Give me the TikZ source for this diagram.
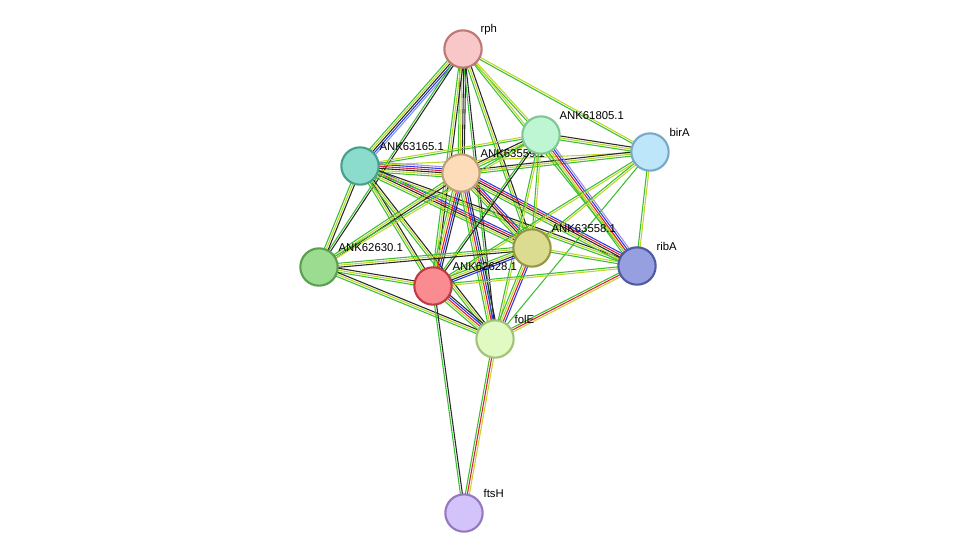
\documentclass[tikz,border=0pt]{standalone}
\usepackage{fontspec}
\setmainfont{Liberation Sans}
\usetikzlibrary{calc}
\definecolor{tm}{RGB}{60,190,50}
\definecolor{cm}{RGB}{190,215,40}
\definecolor{ce}{RGB}{40,40,40}
\definecolor{ex}{RGB}{220,30,50}
\definecolor{db}{RGB}{40,60,230}
\definecolor{hm}{RGB}{160,140,230}
\definecolor{nb}{RGB}{120,150,240}
\newcommand\lnk[3]{%
  \foreach \c [count=\i] in {#3}{\xdef\nn{\i}}%
  \foreach \c [count=\i] in {#3}{%
    \pgfmathsetmacro\off{(\i-(\nn+1)/2)*1.5}%
    \draw[draw=\c,line width=0.8pt] ($(#1)!\off pt!90:(#2)$) -- ($(#2)!\off pt!-90:(#1)$);}}
\tikzset{nd/.style={circle,minimum size=28pt,inner sep=0pt,line width=1.6pt},
 lb/.style={font=\fontsize{8.5pt}{10pt}\selectfont,anchor=south west,inner sep=1pt}}
\begin{document}
\begin{tikzpicture}[x=0.75pt,y=-0.75pt]
\useasboundingbox (0,0) rectangle (975,558);
\coordinate (rph) at (463,49);
\coordinate (a805) at (541,135);
\coordinate (birA) at (650,152);
\coordinate (a165) at (360,166);
\coordinate (a559) at (461,173);
\coordinate (a558) at (532,248);
\coordinate (ribA) at (637,266);
\coordinate (a630) at (319,267);
\coordinate (a628) at (433,286);
\coordinate (folE) at (495,339);
\coordinate (ftsH) at (464,513);
\lnk{rph}{a165}{tm,cm,ce,db,nb}
\lnk{rph}{a559}{tm,cm,ce,ce}
\lnk{rph}{a805}{tm,cm}
\lnk{rph}{birA}{tm,cm}
\lnk{rph}{a558}{tm,cm,ce}
\lnk{rph}{a630}{tm,ce}
\lnk{rph}{a628}{tm,cm,ce}
\lnk{rph}{folE}{tm,ce}
\lnk{rph}{ribA}{tm,cm}
\lnk{a165}{a559}{tm,cm,ce,ex,db,hm}
\lnk{a165}{a805}{tm,cm}
\lnk{a165}{a558}{tm,cm,ce,ex,db}
\lnk{a165}{ribA}{tm,cm,ce}
\lnk{a165}{a630}{tm,cm,ce}
\lnk{a165}{a628}{tm,cm,ce}
\lnk{a165}{folE}{tm,cm,ce}
\lnk{a165}{birA}{cm}
\lnk{a559}{a805}{tm,cm,ce}
\lnk{a559}{birA}{tm,cm,ce}
\lnk{a559}{a558}{tm,cm,ce,ex,db}
\lnk{a559}{ribA}{tm,cm,ce,ex,db}
\lnk{a559}{a630}{tm,cm,ce}
\lnk{a559}{a628}{tm,cm,ex,db,ce}
\lnk{a559}{folE}{tm,cm,ex,db,ce}
\lnk{a805}{birA}{tm,cm,ce}
\lnk{a805}{ribA}{tm,cm,ex,db,hm}
\lnk{a805}{a558}{tm,cm}
\lnk{a805}{a628}{tm,ce}
\lnk{a805}{folE}{tm,cm}
\lnk{a805}{a630}{tm,cm}
\lnk{birA}{ribA}{tm,cm}
\lnk{birA}{a558}{tm,cm}
\lnk{birA}{folE}{tm}
\lnk{birA}{a628}{tm,cm}
\lnk{a558}{ribA}{tm,cm}
\lnk{a558}{a630}{tm,cm,ce}
\lnk{a558}{a628}{tm,cm,ce,db}
\lnk{a558}{folE}{tm,cm,ex,db}
\lnk{ribA}{folE}{tm,ex,cm}
\lnk{ribA}{a628}{tm,cm}
\lnk{a630}{a628}{tm,cm,ce}
\lnk{a630}{folE}{tm,cm,ce}
\lnk{a628}{folE}{tm,cm,ex,db,ce}
\lnk{a628}{ftsH}{tm,ce}
\lnk{folE}{ftsH}{tm,ex,cm}
\node[lb] at (479,36) {rph};
\node[lb] at (558,121) {ANK61805.1};
\node[lb] at (668,138) {birA};
\node[lb] at (378,152) {ANK63165.1};
\node[lb] at (479,159) {ANK63559.1};
\node[lb] at (550,234) {ANK63558.1};
\node[lb] at (655,252) {ribA};
\node[lb] at (337,253) {ANK62630.1};
\node[lb] at (451,272) {ANK62628.1};
\node[lb] at (513,325) {folE};
\node[lb] at (482,499) {ftsH};
\node[nd,draw={rgb,255:red,190;green,120;blue,120},fill={rgb,255:red,248;green,200;blue,200}] (n1) at (rph) {};
\node[nd,draw={rgb,255:red,130;green,200;blue,150},fill={rgb,255:red,190;green,245;blue,210}] (n2) at (a805) {};
\node[nd,draw={rgb,255:red,120;green,170;blue,200},fill={rgb,255:red,190;green,230;blue,250}] (n3) at (birA) {};
\node[nd,draw={rgb,255:red,70;green,160;blue,140},fill={rgb,255:red,140;green,220;blue,205}] (n4) at (a165) {};
\node[nd,draw={rgb,255:red,190;green,160;blue,120},fill={rgb,255:red,253;green,220;blue,185}] (n5) at (a559) {};
\node[nd,draw={rgb,255:red,150;green,150;blue,70},fill={rgb,255:red,220;green,220;blue,145}] (n6) at (a558) {};
\node[nd,draw={rgb,255:red,80;green,90;blue,160},fill={rgb,255:red,150;green,160;blue,225}] (n7) at (ribA) {};
\node[nd,draw={rgb,255:red,90;green,160;blue,80},fill={rgb,255:red,155;green,220;blue,145}] (n8) at (a630) {};
\node[nd,draw={rgb,255:red,190;green,60;blue,70},fill={rgb,255:red,250;green,140;blue,145}] (n9) at (a628) {};
\node[nd,draw={rgb,255:red,160;green,195;blue,120},fill={rgb,255:red,225;green,250;blue,195}] (n10) at (folE) {};
\node[nd,draw={rgb,255:red,150;green,120;blue,190},fill={rgb,255:red,210;green,195;blue,250}] (n11) at (ftsH) {};
\end{tikzpicture}
\end{document}
